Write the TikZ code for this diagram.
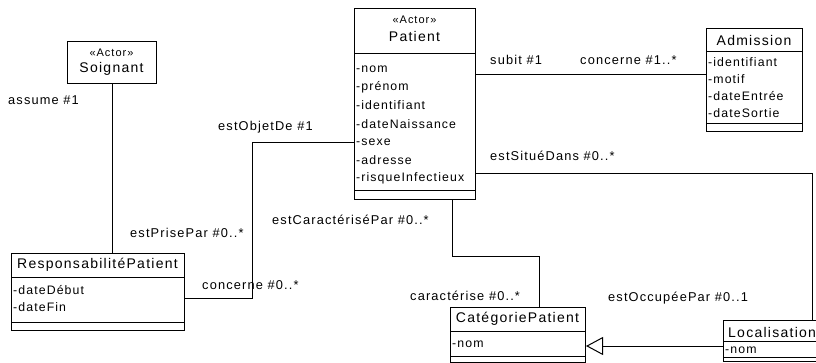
\documentclass[tikz,border=0pt]{standalone}
\usepackage{fontspec}
\setmainfont{Liberation Sans}
\newfontfamily\umlfont[LetterSpace=9]{Liberation Sans}
\usetikzlibrary{arrows.meta}

\begin{document}
\begin{tikzpicture}[x=1pt,y=-1pt,
  box/.style={draw, line width=1pt, inner sep=0pt, anchor=north west},
  hdr/.style={font=\umlfont\fontsize{14}{16}\selectfont, inner sep=0pt},
  stereo/.style={font=\umlfont\fontsize{11}{12}\selectfont, inner sep=0pt},
  attr/.style={font=\umlfont\fontsize{12.3}{14}\selectfont, inner sep=0pt, anchor=west},
  role/.style={font=\umlfont\fontsize{12.8}{14}\selectfont, inner sep=0pt, anchor=west},
  link/.style={line width=1pt},
  sep/.style={line width=1pt},
]
\useasboundingbox (0,0) rectangle (816,363);
\clip (0,0) rectangle (816,363);

% ---- Soignant (actor)
\node[box, minimum width=89pt, minimum height=42pt] (soignant) at (67,41) {};
\node[stereo] (soignantst) at (111.5,53) {«Actor»};
\node[hdr] (soignantnm) at (111.5,69) {Soignant};

% ---- Patient (actor)
\node[box, minimum width=121pt, minimum height=191pt] (patient) at (354,8) {};
\node[stereo] (patientst) at (414.5,20) {«Actor»};
\node[hdr] (patientnm) at (414.5,36) {Patient};
\draw[sep] (patient.west |- 0,54) -- (patient.east |- 0,54);
\node[attr] at (356,69) {-nom};
\node[attr] at (356,87.3) {-prénom};
\node[attr] at (356,105.6) {-identifiant};
\node[attr] at (356,123.9) {-dateNaissance};
\node[attr] at (356,142.2) {-sexe};
\node[attr] at (356,160.5) {-adresse};
\node[attr] at (356,178.8) {-risqueInfectieux};
\draw[sep] (patient.west |- 0,191) -- (patient.east |- 0,191);

% ---- Admission
\node[box, minimum width=96pt, minimum height=103pt] (admission) at (706,28) {};
\node[hdr] (admissionnm) at (754,40) {Admission};
\draw[sep] (admission.west |- 0,52) -- (admission.east |- 0,52);
\node[attr] at (708,62) {-identifiant};
\node[attr] at (708,79) {-motif};
\node[attr] at (708,96) {-dateEntrée};
\node[attr] at (708,113) {-dateSortie};
\draw[sep] (admission.west |- 0,124) -- (admission.east |- 0,124);

% ---- ResponsabilitéPatient
\node[box, minimum width=173pt, minimum height=77pt] (resp) at (11,253) {};
\node[hdr] (respnm) at (97.5,265) {ResponsabilitéPatient};
\draw[sep] (resp.west |- 0,277) -- (resp.east |- 0,277);
\node[attr] at (13,290) {-dateDébut};
\node[attr] at (13,307) {-dateFin};
\draw[sep] (resp.west |- 0,322) -- (resp.east |- 0,322);

% ---- CatégoriePatient
\node[box, minimum width=135pt, minimum height=55pt] (cat) at (450,307) {};
\node[hdr] (catnm) at (517.5,319) {CatégoriePatient};
\draw[sep] (cat.west |- 0,331) -- (cat.east |- 0,331);
\node[attr] at (452,344) {-nom};
\draw[sep] (cat.west |- 0,356) -- (cat.east |- 0,356);

% ---- Localisation (runs past the right border)
\node[box, minimum width=110pt, minimum height=41pt] (loc) at (723,320) {};
\node[hdr, anchor=west] (locnm) at (728,332) {Localisation};
\draw[sep] (loc.west |- 0,341) -- (loc.east |- 0,341);
\node[attr] at (725,350) {-nom};
\draw[sep] (loc.west |- 0,357) -- (loc.east |- 0,357);

% ---- bend points of the associations
\coordinate (pa) at (0,75);
\coordinate (o1) at (252,143);
\coordinate (o2) at (252,298);
\coordinate (c1) at (452,257);
\coordinate (c2) at (539,257);
\coordinate (s1) at (812,174);
\coordinate (g1) at (0,346);

% Soignant -- ResponsabilitéPatient
\draw[link] (soignant.south) -- (soignant.south |- resp.north);
\node[role] at (8,100) {assume \#1};

% Patient -- ResponsabilitéPatient
\draw[link] (patient.west |- o1) -- (o1) -- (o2) -- (o2 -| resp.east);
\node[role] at (218,127) {estObjetDe \#1};
\node[role] at (130,233) {estPrisePar \#0..*};
\node[role] at (202,285) {concerne \#0..*};

% Patient -- Admission
\draw[link] (patient.east |- pa) -- (admission.west |- pa);
\node[role] at (490,60) {subit \#1};
\node[role] at (580,60) {concerne \#1..*};

% Patient -- Localisation
\draw[link] (patient.east |- s1) -- (s1) -- (s1 |- loc.north);
\node[role] at (490,156) {estSituéDans \#0..*};
\node[role] at (608,298) {estOccupéePar \#0..1};

% Patient -- CatégoriePatient
\draw[link] (c1 |- patient.south) -- (c1) -- (c2) -- (c2 |- cat.north);
\node[role] at (272,220) {estCaractériséPar \#0..*};
\node[role] at (410,296) {caractérise \#0..*};

% Localisation specialises CatégoriePatient
\draw[link, -{Triangle[open, length=17pt, width=18pt, line width=1pt]}]
  (loc.west |- g1) -- (cat.east |- g1);
\end{tikzpicture}
\end{document}
